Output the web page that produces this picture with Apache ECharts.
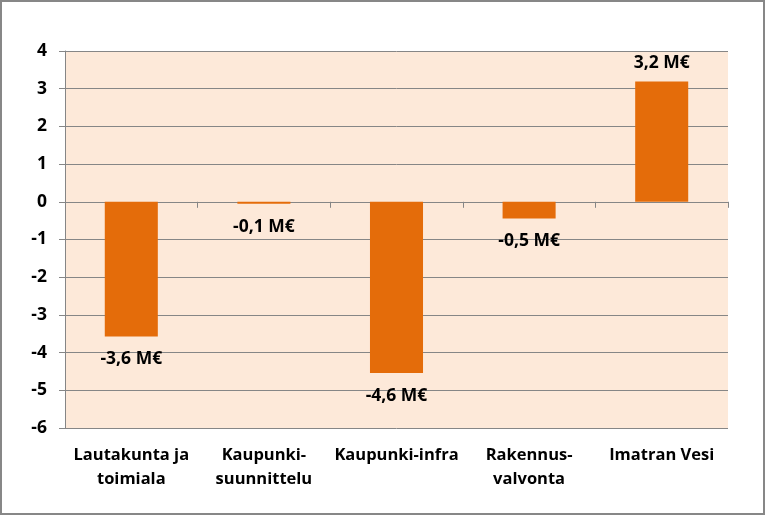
<!DOCTYPE html>
<html>
<head>
<meta charset="utf-8">
<script src="https://cdn.jsdelivr.net/npm/echarts@6/dist/echarts.min.js"></script>
<style>
  html, body { margin: 0; padding: 0; background: #fff; }
  #chart { width: 765px; height: 515px; position: absolute; left: 0; top: 0; }
  #frame {
    position: absolute; left: 0; top: 0; width: 765px; height: 515px;
    box-sizing: border-box; border: 2px solid #878787; pointer-events: none;
  }
</style>
</head>
<body>
<div id="chart"></div>
<div id="frame"></div>
<script>
// 分类（部门）
const categories = [
    'Lautakunta ja\ntoimiala',
    'Kaupunki-\nsuunnittelu',
    'Kaupunki-infra',
    'Rakennus-\nvalvonta',
    'Imatran Vesi'
];
// 数值（M€）
const values = [-3.57, -0.05, -4.54, -0.44, 3.19];
// 柱上的标签文本
const valueLabels = ['-3,6 M€', '-0,1 M€', '-4,6 M€', '-0,5 M€', '3,2 M€'];
// y 轴范围
const yMin = -6;
const yMax = 4;
const yStep = 1;

const labelFont = '"Open Sans", Lato, sans-serif';
const gridColor = '#868686';

const chart = echarts.init(document.getElementById('chart'));

const option = {
    animation: false,
    grid: {
        left: 65,
        right: 37,
        top: 51,
        bottom: 87,
        show: true,
        backgroundColor: '#FDE9D9',
        borderWidth: 0
    },
    xAxis: [
        {
            // 底部分类标签
            type: 'category',
            data: categories,
            position: 'bottom',
            axisLine: { show: false, onZero: false },
            axisTick: { show: false },
            axisLabel: {
                interval: 0,
                margin: 15,
                color: '#000',
                fontFamily: labelFont,
                fontWeight: 'bold',
                fontSize: 16.5,
                lineHeight: 24
            }
        },
        {
            // 零线上的轴线和刻度
            type: 'category',
            data: categories,
            position: 'bottom',
            axisLine: { show: true, onZero: true, lineStyle: { color: gridColor, width: 1 } },
            axisTick: { show: true, length: 6, lineStyle: { color: gridColor } },
            axisLabel: { show: false }
        }
    ],
    yAxis: {
        type: 'value',
        min: yMin,
        max: yMax,
        interval: yStep,
        axisLine: { show: true, lineStyle: { color: gridColor } },
        axisTick: { show: true, length: 6, lineStyle: { color: gridColor } },
        splitLine: { show: true, lineStyle: { color: gridColor, width: 1 } },
        axisLabel: {
            margin: 18,
            color: '#000',
            fontFamily: labelFont,
            fontWeight: 'bold',
            fontSize: 17.5
        }
    },
    series: [
        {
            type: 'bar',
            xAxisIndex: 0,
            barWidth: '40%',
            itemStyle: { color: '#E46C0A' },
            data: values.map((v, i) => ({
                value: v,
                label: {
                    show: true,
                    position: v < 0 ? 'bottom' : 'top',
                    distance: v < 0 ? 14 : 10,
                    formatter: valueLabels[i],
                    color: '#000',
                    fontFamily: labelFont,
                    fontWeight: 'bold',
                    fontSize: 17.5
                }
            }))
        }
    ]
};

chart.setOption(option);
</script>
</body>
</html>
